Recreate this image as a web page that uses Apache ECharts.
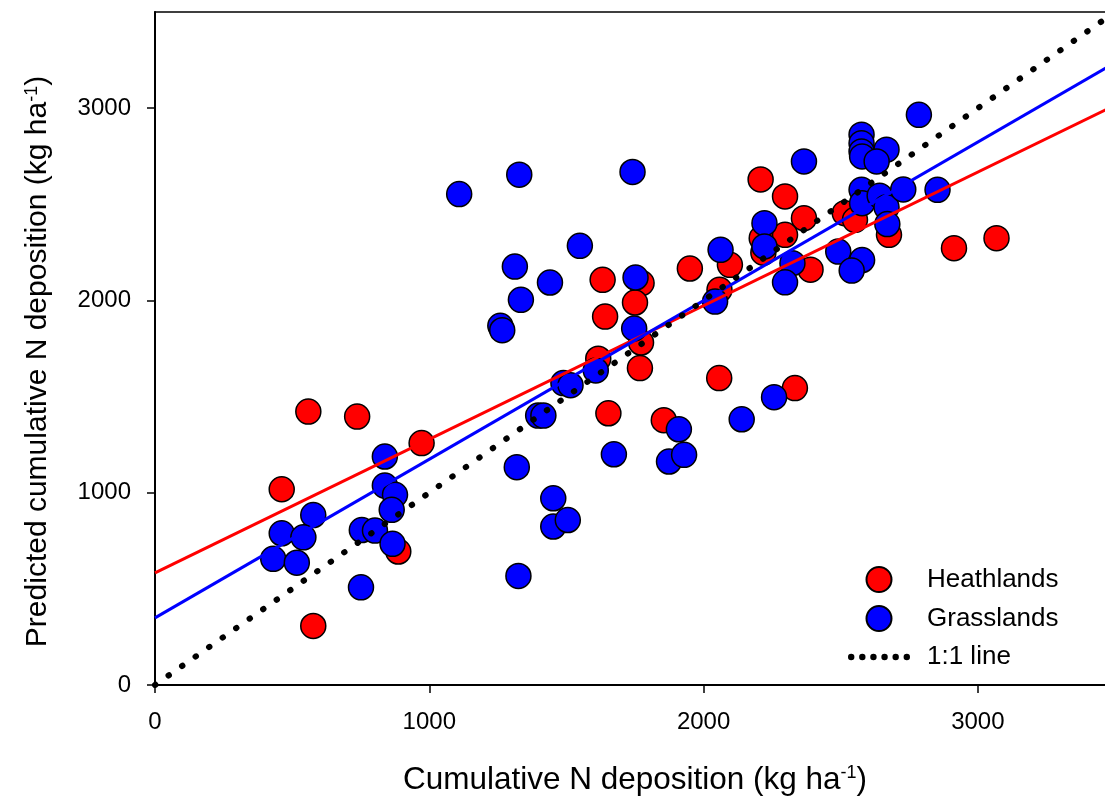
<!DOCTYPE html>
<html>
<head>
<meta charset="utf-8">
<script src="https://cdn.jsdelivr.net/npm/echarts@6/dist/echarts.min.js"></script>
<style>
html,body{margin:0;padding:0;background:#fff;}
#chart{width:1105px;height:802px;}
</style>
</head>
<body>
<div id="chart"></div>
<script>
// ---- data ----
var heathlands = [
  [559,1422],[737,1396],[972,1258],[462,1018],[887,694],[577,307],
  [1632,2107],[1774,2090],[1750,1989],[1641,1916],[1772,1781],[1768,1648],
  [1616,1697],[1653,1413],[1855,1377],
  [1950,2166],[2096,2185],[2058,2055],[2057,1596],[2333,1544],
  [2208,2629],[2297,2541],[2366,2428],[2212,2324],[2297,2341],[2218,2248],[2390,2160],
  [2515,2454],[2552,2419],[2676,2341],[2913,2272],[3068,2324]
];
var grasslands = [
  [838,1188],[838,1037],[875,989],[863,911],[577,884],[462,789],[541,768],
  [431,656],[517,636],[754,806],[802,803],[866,734],[751,508],
  [1109,2553],[1328,2654],[1741,2668],[1549,2284],[1312,2176],[1440,2093],
  [1334,2003],[1259,1868],[1266,1845],[1752,2119],[1747,1854],[1607,1636],
  [1489,1570],[1515,1559],[1397,1401],[1416,1401],[1910,1330],[1874,1162],
  [1929,1197],[1673,1200],[2139,1382],[1319,1133],[1452,971],[1452,824],
  [1505,858],[1325,567],
  [2062,2263],[2042,1994],[2785,2965],[2576,2862],[2576,2818],[2576,2775],
  [2578,2749],[2667,2784],[2631,2723],[2366,2723],[2222,2402],[2222,2281],
  [2324,2194],[2297,2094],[2491,2254],[2578,2210],[2540,2155],[2576,2575],
  [2578,2506],[2642,2545],[2667,2485],[2670,2397],[2728,2577],[2853,2575],
  [2257,1497]
];
var heathFit = [[0,583],[3500,3015]];
var grassFit = [[0,349],[3500,3236]];
var oneToOne = [[0,0],[3500,3500]];
var xTicks = [0,1000,2000,3000];
var yTicks = [0,1000,2000,3000];
var seriesNames = ['Heathlands','Grasslands','1:1 line'];
var xTitle = 'Cumulative N deposition (kg ha{sup|-1})';
var yTitle = 'Predicted cumulative N deposition (kg ha{sup|-1})';

var FONT = "'Liberation Sans', Arial, sans-serif";
var chart = echarts.init(document.getElementById('chart'), null, {renderer:'canvas'});

// dotted legend icon: six round dots in a row
var dotPath = 'path://';
for (var i = 0; i < 6; i++) {
  var cx = 3 + i * 10.4;
  dotPath += 'M' + (cx - 3) + ' 3a3 3 0 1 0 6 0a3 3 0 1 0 -6 0Z';
}

function axisCommon(ticks, labelMargin){
  return {
    type:'value', min:0, max:3500, interval:1000,
    axisLine:{show:true, onZero:false, lineStyle:{color:'#000', width:2}},
    axisTick:{show:true, inside:false, length:8, lineStyle:{color:'#000', width:1.5},
      customValues: ticks},
    axisLabel:{show:true, color:'#000', fontSize:24, fontFamily:FONT, margin:labelMargin,
      customValues: ticks, formatter:function(v){ return String(v); }},
    splitLine:{show:false},
    nameLocation:'middle',
    nameMoveOverlap:false
  };
}

var xAxis = axisCommon(xTicks, 25);
xAxis.name = xTitle;
xAxis.nameGap = 79;
xAxis.nameTextStyle = {color:'#000', fontSize:31.5, fontFamily:FONT,
  rich:{sup:{fontSize:18, fontFamily:FONT, color:'#000', verticalAlign:'top'}}};

var yAxis = axisCommon(yTicks, 24);
yAxis.name = yTitle;
yAxis.nameGap = 102;
yAxis.nameRotate = 90;
yAxis.nameTextStyle = {color:'#000', fontSize:30, fontFamily:FONT, padding:[0,26,0,0],
  rich:{sup:{fontSize:18, fontFamily:FONT, color:'#000', verticalAlign:'top'}}};

var option = {
  backgroundColor:'#fff',
  animation:false,
  grid:{left:155, right:-10, top:12, bottom:117, show:true, borderColor:'#000', borderWidth:1.5,
        backgroundColor:'transparent', outerBoundsMode:'none', containLabel:false},
  legend:{
    orient:'vertical', left:843, top:561, itemWidth:62, itemHeight:25, itemGap:12,
    textStyle:{color:'#000', fontSize:26, fontFamily:FONT, padding:[0,0,0,12]},
    data:[
      {name:seriesNames[0], icon:'circle'},
      {name:seriesNames[1], icon:'circle'},
      {name:seriesNames[2], icon:dotPath, itemStyle:{color:'#000', borderWidth:0}}
    ]
  },
  xAxis: xAxis,
  yAxis: yAxis,
  series:[
    {
      name:seriesNames[0], type:'scatter', data:heathlands, symbol:'circle', symbolSize:25,
      itemStyle:{color:'#ff0000', borderColor:'#000', borderWidth:1.5, opacity:1}, z:2
    },
    {
      name:seriesNames[1], type:'scatter', data:grasslands, symbol:'circle', symbolSize:25,
      itemStyle:{color:'#0000ff', borderColor:'#000', borderWidth:1.5, opacity:1}, z:3
    },
    {
      name:'Heathlands fit', type:'line', data:heathFit, showSymbol:false, symbol:'none',
      lineStyle:{color:'#ff0000', width:3}, z:5, clip:true, silent:true
    },
    {
      name:'Grasslands fit', type:'line', data:grassFit, showSymbol:false, symbol:'none',
      lineStyle:{color:'#0000ff', width:3}, z:5, clip:true, silent:true
    },
    {
      name:seriesNames[2], type:'line', data:oneToOne, showSymbol:false, symbol:'none',
      itemStyle:{color:'#000'},
      lineStyle:{color:'#000', width:6, type:[0.5,16], cap:'round'}, z:6, clip:true, silent:true
    }
  ]
};
chart.setOption(option);
</script>
</body>
</html>
